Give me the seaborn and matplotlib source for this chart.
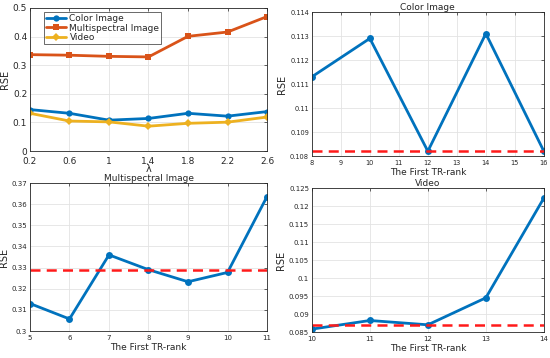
import numpy as np
import pandas as pd
import matplotlib
matplotlib.use('Agg')
import matplotlib.pyplot as plt
import seaborn as sns

sns.set_style('white')
plt.rcParams['font.family'] = ['DejaVu Sans']

# ── Data ──────────────────────────────────────────────
lam = [0.2, 0.6, 1.0, 1.4, 1.8, 2.2, 2.6]
lam_color = [0.145, 0.132, 0.108, 0.114, 0.132, 0.122, 0.138]
lam_multi = [0.337, 0.335, 0.331, 0.329, 0.401, 0.416, 0.470]
lam_video = [0.132, 0.105, 0.102, 0.087, 0.097, 0.101, 0.119]

color_rank = [8, 10, 12, 14, 16]
color_rse = [0.1113, 0.1129, 0.1082, 0.1131, 0.1082]
color_ref = 0.1082

multi_rank = [5, 6, 7, 8, 9, 10, 11]
multi_rse = [0.3130, 0.3057, 0.3360, 0.3290, 0.3233, 0.3277, 0.3636]
multi_ref = 0.329

video_rank = [10, 11, 12, 13, 14]
video_rse = [0.0858, 0.0882, 0.0870, 0.0945, 0.1222]
video_ref = 0.0870

BLUE, ORANGE, YELLOW = '#0072BD', '#D95319', '#EDB120'


def style(ax, fs, xpad=2):
    ax.grid(True, color='#e3e3e3', linewidth=0.6)
    ax.set_axisbelow(True)
    for s in ax.spines.values():
        s.set_visible(True)
        s.set_color('#262626')
        s.set_linewidth(0.6)
    ax.tick_params(labelsize=fs, length=2, width=0.5, direction='in',
                   colors='#262626', pad=2, top=True, right=True,
                   labeltop=False, labelright=False)
    ax.tick_params(axis='x', pad=xpad)


fig = plt.figure(figsize=(5.5, 3.58), dpi=100)

# ── Top-left: RSE vs lambda ───────────────────────────
ax1 = fig.add_axes([0.0545, 0.578, 0.431, 0.3997])
df = pd.DataFrame({'lam': lam * 3,
                   'rse': lam_color + lam_multi + lam_video,
                   'kind': ['Color Image'] * 7 + ['Multispectral Image'] * 7 + ['Video'] * 7})
sns.lineplot(data=df, x='lam', y='rse', hue='kind', style='kind',
             palette=[BLUE, ORANGE, YELLOW], markers=['o', 's', 'D'],
             dashes=False, linewidth=2, markersize=4.5, markeredgewidth=0,
             ax=ax1)
ax1.set_xlim(0.2, 2.6)
ax1.set_ylim(0, 0.5)
ax1.set_xticks(lam)
ax1.set_xticklabels(['0.2', '0.6', '1', '1.4', '1.8', '2.2', '2.6'])
ax1.set_yticks([0, 0.1, 0.2, 0.3, 0.4, 0.5])
ax1.set_yticklabels(['0', '0.1', '0.2', '0.3', '0.4', '0.5'])
ax1.set_xlabel('λ', fontsize=7, labelpad=-1)
ax1.set_ylabel('RSE', fontsize=7, labelpad=2)
style(ax1, 6.5, xpad=4)
leg = ax1.legend(loc='upper left', bbox_to_anchor=(0.06, 0.97), fontsize=6.5,
                 frameon=True, fancybox=False, borderpad=0.2, labelspacing=0.05,
                 handlelength=2.2, handletextpad=0.4, borderaxespad=0)
leg.get_frame().set_edgecolor('#262626')
leg.get_frame().set_linewidth(0.6)


def rank_panel(rect, x, y, ref, xlim, ylim, yticks, ylabels, title, fs):
    ax = fig.add_axes(rect)
    sns.lineplot(x=x, y=y, color=BLUE, marker='o', linewidth=2,
                 markersize=5, markeredgewidth=0, ax=ax)
    ax.axhline(ref, color='#ff1a1a', linestyle=(0, (4, 2.5)), linewidth=1.8)
    ax.set_xlim(*xlim)
    ax.set_ylim(*ylim)
    ax.set_yticks(yticks)
    ax.set_yticklabels(ylabels)
    ax.set_xlabel('The First TR-rank', fontsize=6.5, labelpad=1)
    ax.set_ylabel('RSE', fontsize=7, labelpad=2)
    ax.set_title(title, fontsize=6.5, pad=1.5)
    style(ax, fs, xpad=3)
    return ax


# ── Top-right: Color Image ────────────────────────────
ax2 = rank_panel([0.567, 0.5642, 0.4218, 0.4022], color_rank, color_rse, color_ref,
                 (8, 16), (0.108, 0.114),
                 [0.108, 0.109, 0.110, 0.111, 0.112, 0.113, 0.114],
                 ['0.108', '0.109', '0.11', '0.111', '0.112', '0.113', '0.114'],
                 'Color Image', 4.8)
ax2.set_xticks(range(8, 17))

# ── Bottom-left: Multispectral Image ──────────────────
ax3 = rank_panel([0.0545, 0.0754, 0.431, 0.4134], multi_rank, multi_rse, multi_ref,
                 (5, 11), (0.30, 0.37),
                 [0.30, 0.31, 0.32, 0.33, 0.34, 0.35, 0.36, 0.37],
                 ['0.3', '0.31', '0.32', '0.33', '0.34', '0.35', '0.36', '0.37'],
                 'Multispectral Image', 5)
ax3.set_xticks(multi_rank)

# ── Bottom-right: Video ───────────────────────────────
ax4 = rank_panel([0.567, 0.0726, 0.4218, 0.4022], video_rank, video_rse, video_ref,
                 (10, 14), (0.085, 0.125),
                 [0.085, 0.09, 0.095, 0.1, 0.105, 0.11, 0.115, 0.12, 0.125],
                 ['0.085', '0.09', '0.095', '0.1', '0.105', '0.11', '0.115', '0.12', '0.125'],
                 'Video', 5)
ax4.set_xticks(video_rank)

fig.savefig('out.png', dpi=100)
